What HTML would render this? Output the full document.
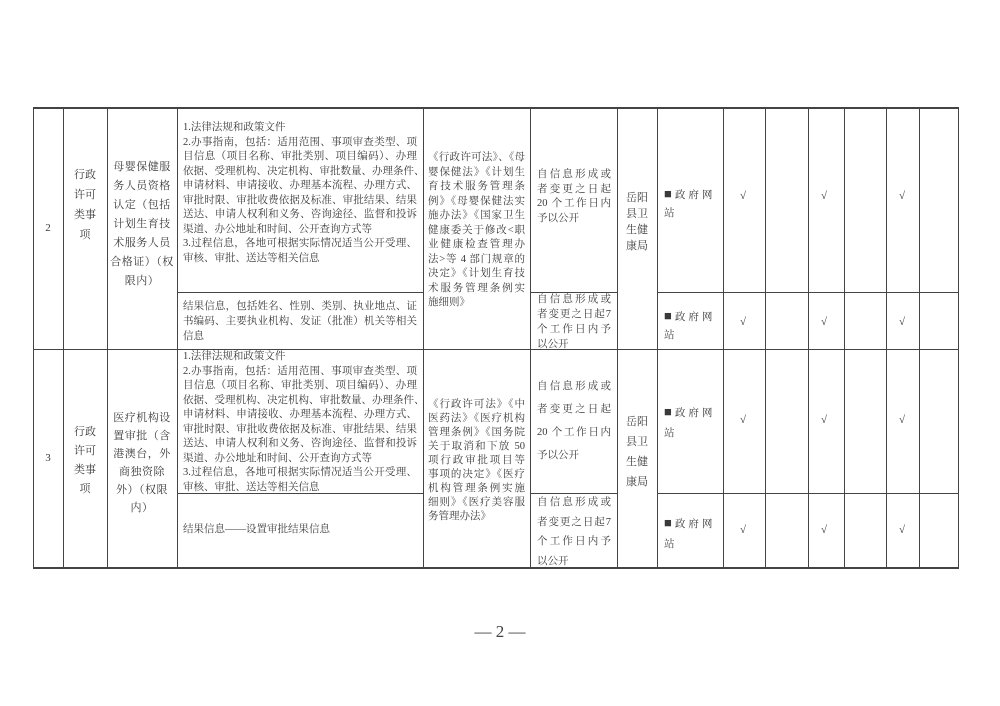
<!DOCTYPE html>
<html><head><meta charset="utf-8"><style>
body{margin:0;background:#fff;}
#c{position:relative;width:1000px;height:706px;overflow:hidden;background:#fff;font-family:"Liberation Serif","Noto Serif CJK SC",serif;color:#3a3a3a;}
.h{position:absolute;height:1px;background:#444;}
.v{position:absolute;width:1px;background:#444;top:107px;height:461px;}
.t{position:absolute;font-size:10.5px;line-height:14px;white-space:nowrap;}
.c{position:absolute;font-size:11px;line-height:14px;white-space:nowrap;text-align:center;}
.k{position:absolute;font-size:11px;line-height:14px;}
.sq{font-size:13px;}
</style></head><body><div id="c">
<div class="h" style="left:33px;width:926px;top:107px;height:1.5px"></div>
<div class="h" style="left:177px;width:246px;top:292px"></div>
<div class="h" style="left:530px;width:87px;top:292px"></div>
<div class="h" style="left:657px;width:301px;top:292px"></div>
<div class="h" style="left:33px;width:926px;top:349px"></div>
<div class="h" style="left:177px;width:246px;top:493px"></div>
<div class="h" style="left:530px;width:87px;top:493px"></div>
<div class="h" style="left:657px;width:301px;top:493px"></div>
<div class="h" style="left:33px;width:926px;top:567px;height:1.5px"></div>
<div class="v" style="left:33px"></div>
<div class="v" style="left:63px"></div>
<div class="v" style="left:107px"></div>
<div class="v" style="left:177px"></div>
<div class="v" style="left:423px"></div>
<div class="v" style="left:530px"></div>
<div class="v" style="left:617px"></div>
<div class="v" style="left:657px"></div>
<div class="v" style="left:723px"></div>
<div class="v" style="left:765px"></div>
<div class="v" style="left:808px"></div>
<div class="v" style="left:844px"></div>
<div class="v" style="left:886px"></div>
<div class="v" style="left:919px"></div>
<div class="v" style="left:958px"></div>

<!-- ROW 2 -->
<div class="c" style="left:33px;width:30px;top:221px">2</div>
<div class="c" style="left:63px;width:44px;top:165px;line-height:20px">行政<br>许可<br>类事<br>项</div>
<div class="c" style="left:107px;width:70px;top:158px;line-height:19px;letter-spacing:0.5px">母婴保健服<br>务人员资格<br>认定（包括<br>计划生育技<br>术服务人员<br>合格证）（权<br>限内）</div>
<div class="t" style="left:183px;top:121px;width:234px;line-height:14.5px">
<div>1.法律法规和政策文件</div>
<div style="text-align-last:justify">2.办事指南，包括：适用范围、事项审查类型、项</div>
<div style="text-align-last:justify">目信息（项目名称、审批类别、项目编码）、办理</div>
<div style="text-align-last:justify">依据、受理机构、决定机构、审批数量、办理条件、</div>
<div style="text-align-last:justify">申请材料、申请接收、办理基本流程、办理方式、</div>
<div style="text-align-last:justify">审批时限、审批收费依据及标准、审批结果、结果</div>
<div style="text-align-last:justify">送达、申请人权利和义务、咨询途径、监督和投诉</div>
<div>渠道、办公地址和时间、公开查询方式等</div>
<div style="text-align-last:justify">3.过程信息，各地可根据实际情况适当公开受理、</div>
<div>审核、审批、送达等相关信息</div>
</div>
<div class="t" style="left:183px;top:299px;width:234px;line-height:15px">
<div style="text-align-last:justify">结果信息，包括姓名、性别、类别、执业地点、证</div>
<div style="text-align-last:justify">书编码、主要执业机构、发证（批准）机关等相关</div>
<div>信息</div>
</div>
<div class="t" style="left:428px;top:151px;width:97px;line-height:14.5px">
<div style="text-align-last:justify">《行政许可法》、《母</div>
<div style="text-align-last:justify">婴保健法》《计划生</div>
<div style="text-align-last:justify">育技术服务管理条</div>
<div style="text-align-last:justify">例》《母婴保健法实</div>
<div style="text-align-last:justify">施办法》《国家卫生</div>
<div style="text-align-last:justify">健康委关于修改&lt;职</div>
<div style="text-align-last:justify">业健康检查管理办</div>
<div style="text-align-last:justify">法&gt;等 4 部门规章的</div>
<div style="text-align-last:justify">决定》《计划生育技</div>
<div style="text-align-last:justify">术服务管理条例实</div>
<div>施细则》</div>
</div>
<div class="t" style="left:537px;top:168px;width:74px;line-height:14.5px">
<div style="text-align-last:justify">自信息形成或</div>
<div style="text-align-last:justify">者变更之日起</div>
<div style="text-align-last:justify">20 个工作日内</div>
<div>予以公开</div>
</div>
<div class="t" style="left:537px;top:292px;width:74px;line-height:15px">
<div style="text-align-last:justify">自信息形成或</div>
<div style="text-align-last:justify">者变更之日起7</div>
<div style="text-align-last:justify">个工作日内予</div>
<div>以公开</div>
</div>
<div class="c" style="left:617px;width:40px;top:190px;line-height:16px">岳阳<br>县卫<br>生健<br>康局</div>
<div class="t" style="left:664px;top:185px;line-height:18px;letter-spacing:3px"><span class="sq">■</span>政府网<br>站</div>
<div class="t" style="left:664px;top:307px;line-height:18px;letter-spacing:3px"><span class="sq">■</span>政府网<br>站</div>
<div class="k" style="left:740px;top:189px">√</div>
<div class="k" style="left:821px;top:189px">√</div>
<div class="k" style="left:899px;top:189px">√</div>
<div class="k" style="left:740px;top:315px">√</div>
<div class="k" style="left:821px;top:315px">√</div>
<div class="k" style="left:899px;top:315px">√</div>

<!-- ROW 3 -->
<div class="c" style="left:33px;width:30px;top:451px">3</div>
<div class="c" style="left:63px;width:44px;top:423px;line-height:19px">行政<br>许可<br>类事<br>项</div>
<div class="c" style="left:107px;width:70px;top:409px;line-height:18px;letter-spacing:0.5px">医疗机构设<br>置审批（含<br>港澳台，外<br>商独资除<br>外）（权限<br>内）</div>
<div class="t" style="left:183px;top:350px;width:234px;line-height:14.5px">
<div>1.法律法规和政策文件</div>
<div style="text-align-last:justify">2.办事指南，包括：适用范围、事项审查类型、项</div>
<div style="text-align-last:justify">目信息（项目名称、审批类别、项目编码）、办理</div>
<div style="text-align-last:justify">依据、受理机构、决定机构、审批数量、办理条件、</div>
<div style="text-align-last:justify">申请材料、申请接收、办理基本流程、办理方式、</div>
<div style="text-align-last:justify">审批时限、审批收费依据及标准、审批结果、结果</div>
<div style="text-align-last:justify">送达、申请人权利和义务、咨询途径、监督和投诉</div>
<div>渠道、办公地址和时间、公开查询方式等</div>
<div style="text-align-last:justify">3.过程信息，各地可根据实际情况适当公开受理、</div>
<div>审核、审批、送达等相关信息</div>
</div>
<div class="t" style="left:183px;top:523px">结果信息——设置审批结果信息</div>
<div class="t" style="left:428px;top:398px;width:97px;line-height:14px">
<div style="text-align-last:justify">《行政许可法》《中</div>
<div style="text-align-last:justify">医药法》《医疗机构</div>
<div style="text-align-last:justify">管理条例》《国务院</div>
<div style="text-align-last:justify">关于取消和下放 50</div>
<div style="text-align-last:justify">项行政审批项目等</div>
<div style="text-align-last:justify">事项的决定》《医疗</div>
<div style="text-align-last:justify">机构管理条例实施</div>
<div style="text-align-last:justify">细则》《医疗美容服</div>
<div>务管理办法》</div>
</div>
<div class="t" style="left:537px;top:375px;width:74px;line-height:23px">
<div style="text-align-last:justify">自信息形成或</div>
<div style="text-align-last:justify">者变更之日起</div>
<div style="text-align-last:justify">20 个工作日内</div>
<div>予以公开</div>
</div>
<div class="t" style="left:537px;top:493px;width:74px;line-height:19.5px">
<div style="text-align-last:justify">自信息形成或</div>
<div style="text-align-last:justify">者变更之日起7</div>
<div style="text-align-last:justify">个工作日内予</div>
<div>以公开</div>
</div>
<div class="c" style="left:617px;width:40px;top:412px;line-height:20px">岳阳<br>县卫<br>生健<br>康局</div>
<div class="t" style="left:664px;top:402px;line-height:20px;letter-spacing:3px"><span class="sq">■</span>政府网<br>站</div>
<div class="t" style="left:664px;top:513px;line-height:20px;letter-spacing:3px"><span class="sq">■</span>政府网<br>站</div>
<div class="k" style="left:740px;top:413px">√</div>
<div class="k" style="left:821px;top:413px">√</div>
<div class="k" style="left:899px;top:413px">√</div>
<div class="k" style="left:740px;top:523px">√</div>
<div class="k" style="left:821px;top:523px">√</div>
<div class="k" style="left:899px;top:523px">√</div>

<div style="position:absolute;left:440px;width:120px;top:621px;text-align:center;font-size:17px;line-height:22px;color:#444">— 2 —</div>
</div></body></html>
